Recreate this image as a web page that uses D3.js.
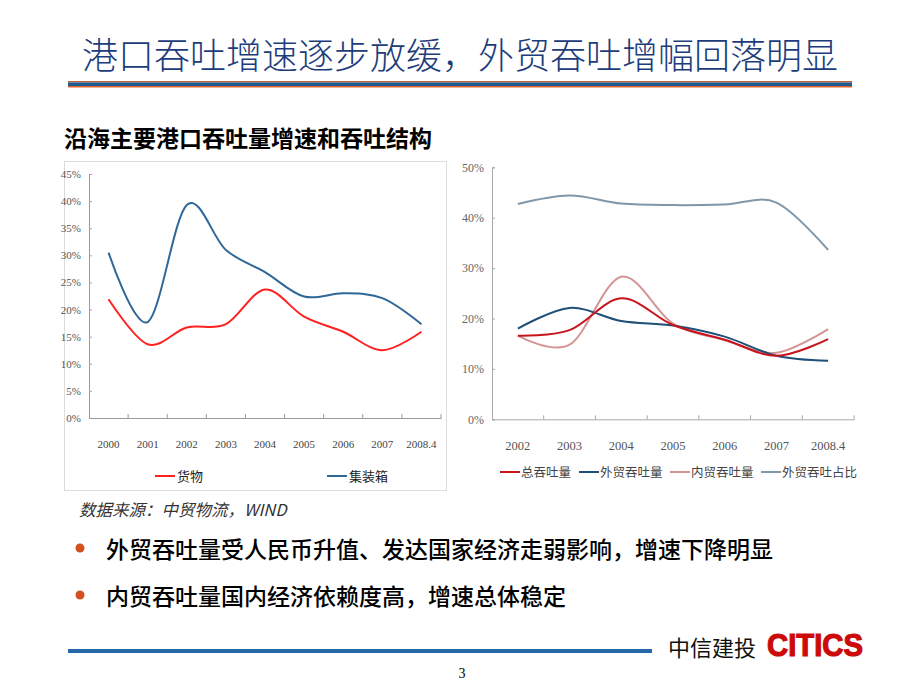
<!DOCTYPE html>
<html><head><meta charset="utf-8">
<script src="https://cdn.jsdelivr.net/npm/d3@7"></script>
<style>
html,body{margin:0;padding:0;background:#fff;}
svg{display:block;}
</style></head>
<body>
<svg id="c" width="920" height="690"></svg>
<script>
// ---------- data ----------
const titleText = "港口吞吐增速逐步放缓，外贸吞吐增幅回落明显";
const subtitleText = "沿海主要港口吞吐量增速和吞吐结构";
const sourceText = "数据来源：中贸物流，WIND";
const bullets = ["外贸吞吐量受人民币升值、发达国家经济走弱影响，增速下降明显",
                 "内贸吞吐量国内经济依赖度高，增速总体稳定"];

const leftCats = ["2000","2001","2002","2003","2004","2005","2006","2007","2008.4"];
const cargoGrowth     = [21.9, 13.6, 16.7, 17.3, 23.7, 18.7, 15.9, 12.5, 15.9];
const containerGrowth = [30.5, 17.7, 39.3, 31.0, 26.9, 22.4, 23.0, 22.1, 17.3];
const leftYTicks = [0,5,10,15,20,25,30,35,40,45];
const leftSeriesNames = ["货物","集装箱"];

const rightCats = ["2002","2003","2004","2005","2006","2007","2008.4"];
const totalThroughput    = [16.6, 17.7, 24.0, 18.7, 15.8, 12.6, 15.9];
const foreignThroughput  = [18.0, 22.1, 19.5, 18.6, 16.4, 12.6, 11.6];
const domesticThroughput = [16.6, 14.8, 28.3, 19.0, 15.7, 13.2, 17.9];
const foreignShare       = [42.7, 44.4, 42.8, 42.5, 42.6, 43.0, 33.6];
const rightYTicks = [0,10,20,30,40,50];
const rightSeriesNames = ["总吞吐量","外贸吞吐量","内贸吞吐量","外贸吞吐占比"];

// ---------- drawing ----------
const svg = d3.select("#c");
svg.append("rect").attr("width",920).attr("height",690).attr("fill","#fff");

const CJK = "'Noto Sans CJK SC','Noto Sans',sans-serif";
const SERIF = "'Liberation Serif','DejaVu Serif',serif";

// title
svg.append("text").attr("x",460).attr("y",69).attr("text-anchor","middle")
  .attr("font-family",CJK).attr("font-size",36).attr("font-weight",300)
  .attr("fill","#1d3c7a").text(titleText);

// stripe line under title
svg.append("rect").attr("x",68).attr("y",81).attr("width",784).attr("height",1.5).attr("fill","#b8643a");
svg.append("rect").attr("x",68).attr("y",82.5).attr("width",784).attr("height",3.5).attr("fill","#1f5a92");
svg.append("rect").attr("x",68).attr("y",86).attr("width",784).attr("height",1.5).attr("fill","#e0602a");

// subtitle
svg.append("text").attr("x",64).attr("y",147)
  .attr("font-family",CJK).attr("font-size",23).attr("font-weight","bold")
  .attr("fill","#000").text(subtitleText);

const curve = d3.curveCardinal.tension(0);

// ---------- left chart ----------
svg.append("rect").attr("x",64.5).attr("y",161.5).attr("width",382).attr("height",329)
  .attr("fill","none").attr("stroke","#b8b8b8").attr("stroke-width",1).attr("stroke-dasharray","1,1");

const L = {x0:89, x1:441, y0:418, yTop:174};
const lx = d3.scaleBand().domain(leftCats).range([L.x0,L.x1]).paddingInner(0).paddingOuter(0);
const ly = d3.scaleLinear().domain([0,45]).range([L.y0,L.yTop]);
const gL = svg.append("g");

const yAxL = d3.axisLeft(ly).tickValues(leftYTicks).tickFormat(d=>d+"%").tickSize(-3).tickPadding(8);
const gyL = gL.append("g").attr("transform",`translate(${L.x0},0)`).call(yAxL);
gyL.select(".domain").attr("stroke","#9a9a9a");
gyL.selectAll(".tick line").attr("stroke","#b0a0c0");
gyL.selectAll("text").attr("font-family",SERIF).attr("font-size",11).attr("fill","#555");

const xAxL = d3.axisBottom(lx).tickSize(0).tickPadding(22);
const gxL = gL.append("g").attr("transform",`translate(0,${L.y0})`).call(xAxL);
gxL.select(".domain").attr("stroke","#9a9a9a");
gxL.selectAll("text").attr("font-family",SERIF).attr("font-size",11).attr("fill","#444");
gL.append("g").selectAll("line").data(leftCats).join("line")
  .attr("x1",d=>lx(d)+lx.bandwidth()).attr("x2",d=>lx(d)+lx.bandwidth())
  .attr("y1",L.y0).attr("y2",L.y0-4).attr("stroke","#9a9a9a");

const lineL = d3.line().x((d,i)=>lx(leftCats[i])+lx.bandwidth()/2).y(d=>ly(d)).curve(curve);
const leftColors = ["#ff2020","#2e6898"];
[cargoGrowth, containerGrowth].forEach((s,k)=>{
  gL.append("path").attr("d",lineL(s)).attr("fill","none")
    .attr("stroke",leftColors[k]).attr("stroke-width",2);
});

const legL = [{x:155, name:leftSeriesNames[0], c:leftColors[0]},{x:327, name:leftSeriesNames[1], c:leftColors[1]}];
legL.forEach(o=>{
  gL.append("line").attr("x1",o.x).attr("x2",o.x+20).attr("y1",476).attr("y2",476)
    .attr("stroke",o.c).attr("stroke-width",2);
  gL.append("text").attr("x",o.x+22).attr("y",481).attr("font-family",CJK).attr("font-size",13)
    .attr("fill","#222").text(o.name);
});

// ---------- right chart ----------
const R = {x0:492, x1:854, y0:419.3, yTop:167.3};
const rx = d3.scaleBand().domain(rightCats).range([R.x0,R.x1]).paddingInner(0).paddingOuter(0);
const ry = d3.scaleLinear().domain([0,50]).range([R.y0,R.yTop]);
const gR = svg.append("g");

const yAxR = d3.axisLeft(ry).tickValues(rightYTicks).tickFormat(d=>d+"%").tickSize(-3).tickPadding(8);
const gyR = gR.append("g").attr("transform",`translate(${R.x0},0)`).call(yAxR);
gyR.select(".domain").attr("stroke","#a8a8a8");
gyR.selectAll(".tick line").attr("stroke","#a8a8a8");
gyR.selectAll("text").attr("font-family",SERIF).attr("font-size",12).attr("fill","#666");

const xAxR = d3.axisBottom(rx).tickSize(0).tickPadding(22);
const gxR = gR.append("g").attr("transform",`translate(0,${R.y0})`).call(xAxR);
gxR.select(".domain").attr("stroke","#a8a8a8");
gxR.selectAll("text").attr("font-family",SERIF).attr("font-size",12.5).attr("fill","#555");
gR.append("g").selectAll("line").data(rightCats).join("line")
  .attr("x1",d=>rx(d)+rx.bandwidth()).attr("x2",d=>rx(d)+rx.bandwidth())
  .attr("y1",R.y0).attr("y2",R.y0-4).attr("stroke","#a8a8a8");

const lineR = d3.line().x((d,i)=>rx(rightCats[i])+rx.bandwidth()/2).y(d=>ry(d)).curve(curve);
const rightColors = ["#c8141c","#1f4f78","#d49494","#8097aa"];
const rightSeries = [totalThroughput, foreignThroughput, domesticThroughput, foreignShare];
[3,2,1,0].forEach(k=>{
  gR.append("path").attr("d",lineR(rightSeries[k])).attr("fill","none")
    .attr("stroke",rightColors[k]).attr("stroke-width",2);
});

const legRx = [500, 579, 670, 761];
rightSeriesNames.forEach((n,k)=>{
  gR.append("line").attr("x1",legRx[k]).attr("x2",legRx[k]+20).attr("y1",472).attr("y2",472)
    .attr("stroke",rightColors[k]).attr("stroke-width",2);
  gR.append("text").attr("x",legRx[k]+21).attr("y",477).attr("font-family",CJK).attr("font-size",12.5)
    .attr("fill","#444").text(n);
});

// ---------- source & bullets ----------
svg.append("text").attr("x",79).attr("y",516).attr("font-family",CJK).attr("font-size",16.5)
  .attr("font-style","italic").attr("fill","#333").text(sourceText);

const bulletY = [558, 605];
bullets.forEach((t,i)=>{
  svg.append("circle").attr("cx",80).attr("cy",bulletY[i]-10).attr("r",4.5).attr("fill","#d4501e");
  svg.append("text").attr("x",106).attr("y",bulletY[i]).attr("font-family",CJK).attr("font-size",23)
    .attr("font-weight",500).attr("fill","#000").text(t);
});

// ---------- footer ----------
svg.append("rect").attr("x",68).attr("y",649).attr("width",584).attr("height",4).attr("fill","#2468a8");
svg.append("text").attr("x",668).attr("y",656).attr("font-family",CJK).attr("font-size",22)
  .attr("fill","#111").text("中信建投");
svg.append("text").attr("x",767).attr("y",656).attr("font-family","'Liberation Sans','DejaVu Sans',sans-serif")
  .attr("font-size",31).attr("font-weight","bold").attr("fill","#cc0a0a")
  .attr("stroke","#cc0a0a").attr("stroke-width",1.2)
  .attr("textLength",96).attr("lengthAdjust","spacingAndGlyphs").text("CITICS");
svg.append("text").attr("x",462).attr("y",678).attr("text-anchor","middle").attr("font-family",SERIF)
  .attr("font-size",14).attr("fill","#000").text("3");
</script>
</body></html>
